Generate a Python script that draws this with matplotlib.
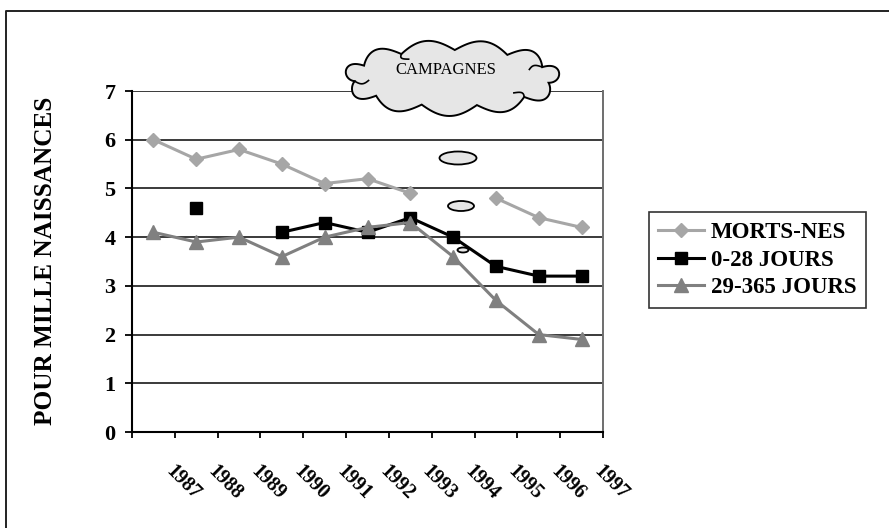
import numpy as np
import matplotlib
matplotlib.use("Agg")
import matplotlib.pyplot as plt
import matplotlib.transforms as mtransforms
from matplotlib.patches import Ellipse, Polygon

plt.rcParams['font.family'] = ['Liberation Serif', 'DejaVu Serif']

# Taux pour mille naissances, 1987-1997 (nan = pas de donnée)
years = ['1987', '1988', '1989', '1990', '1991', '1992',
         '1993', '1994', '1995', '1996', '1997']
morts_nes = [6.0, 5.6, 5.8, 5.5, 5.1, 5.2, 4.9, np.nan, 4.8, 4.4, 4.2]
jours_0_28 = [np.nan, 4.6, np.nan, 4.1, 4.3, 4.1, 4.4, 4.0, 3.4, 3.2, 3.2]
jours_29_365 = [4.1, 3.9, 4.0, 3.6, 4.0, 4.2, 4.3, 3.6, 2.7, 2.0, 1.9]
series_labels = ['MORTS-NES', '0-28 JOURS', '29-365 JOURS']

W, H = 889, 528
fig = plt.figure(figsize=(W / 100, H / 100), dpi=100)
ax = fig.add_axes([132 / W, 1 - 432 / H, (603 - 132) / W, (432 - 91) / H])

x = np.arange(len(years)) + 0.5
ax.plot(x, morts_nes, color='#a6a6a6', lw=2.2, marker='D', ms=7.5,
        label=series_labels[0], zorder=3)
ax.plot(x, jours_0_28, color='black', lw=2.2, marker='s', ms=8.5,
        label=series_labels[1], zorder=4)
ax.plot(x, jours_29_365, color='#808080', lw=2.2, marker='^', ms=10,
        label=series_labels[2], zorder=5)

ax.set_xlim(0, len(years))
ax.set_ylim(0, 7)
ax.set_yticks(range(0, 8))
ax.set_xticks(range(0, len(years) + 1))
ax.set_xticklabels([])
ax.yaxis.grid(True, color='#3a3a3a', lw=1.4)
ax.set_axisbelow(True)
ax.tick_params(axis='y', direction='out', length=5, width=1.3, pad=7,
               labelsize=16)
ax.tick_params(axis='x', direction='out', length=4, width=1.3)
for lab in ax.get_yticklabels():
    lab.set_fontweight('bold')
ax.spines['top'].set_visible(False)
ax.spines['left'].set_linewidth(1.5)
ax.spines['bottom'].set_linewidth(1.5)
ax.spines['right'].set_color('#6e6e6e')
ax.spines['right'].set_linewidth(1.4)

# étiquettes des années, inclinées
lab_tr = mtransforms.offset_copy(ax.get_xaxis_transform(), fig=fig,
                                 x=8, y=-29, units='dots')
for xi, yr in zip(x, years):
    ax.text(xi, 0, yr, transform=lab_tr, rotation=-45, ha='left', va='top',
            fontsize=14.5, fontweight='bold')

fig.text(46 / W, 1 - 261 / H, 'POUR MILLE NAISSANCES', rotation=90,
         ha='center', va='center', fontsize=18.2, fontweight='bold')

leg = fig.legend(loc='center', bbox_to_anchor=(757.5 / W, 1 - 260 / H),
                 prop={'weight': 'bold', 'size': 16.5}, frameon=True,
                 fancybox=False, handlelength=2.0, handletextpad=0.3,
                 labelspacing=0.3, borderpad=0.4, borderaxespad=0)
leg.get_frame().set_edgecolor('black')
leg.get_frame().set_linewidth(1.2)

# calque en pixels pour le cadre, le nuage et les bulles
ov = fig.add_axes([0, 0, 1, 1], zorder=10)
ov.set_xlim(0, W)
ov.set_ylim(H, 0)
ov.axis('off')
ov.patch.set_alpha(0)

ov.plot([6, 6, W + 5], [H + 5, 11, 11], color='#222222', lw=1.4)

# nuage festonné
cx, cy, rx, ry = 452, 78, 98, 28
n_bumps = 11
pts = []
joints = []
for k in range(n_bumps):
    t0 = 2 * np.pi * (k + 0.3) / n_bumps
    t1 = 2 * np.pi * (k + 1.3) / n_bumps
    joints.append(t0)
    for t in np.linspace(0, 1, 24, endpoint=False):
        th = t0 + (t1 - t0) * t
        ex, ey = cx + rx * np.cos(th), cy + ry * np.sin(th)
        nx, ny = np.cos(th) / rx, np.sin(th) / ry
        nn = np.hypot(nx, ny)
        amp = 10 * np.sin(np.pi * t)
        pts.append((ex + amp * nx / nn, ey + amp * ny / nn))
ov.add_patch(Polygon(pts, closed=True, facecolor='#e6e6e6',
                     edgecolor='black', lw=1.4))

# petits plis à l'intérieur du nuage
for k in (1, 5, 7, 10):
    th = joints[k]
    px, py = cx + rx * np.cos(th), cy + ry * np.sin(th)
    s = np.linspace(0, 1, 10)
    qx = px - s * 14 * np.cos(th) + 4 * np.sin(np.pi * s) * np.sin(th)
    qy = py - s * 6 * np.sin(th) - 3 * np.sin(np.pi * s) * np.cos(th)
    ov.plot(qx, qy, color='black', lw=1.2)

ov.text(446, 70, 'CAMPAGNES', ha='center', va='center', fontsize=12)

for (ex, ey, ew, eh) in [(458, 158, 37, 13), (461, 206, 26, 10),
                         (463, 250, 11, 5)]:
    ov.add_patch(Ellipse((ex, ey), ew, eh, facecolor='#e6e6e6',
                         edgecolor='black', lw=1.3))

fig.savefig('out.png', dpi=100)
